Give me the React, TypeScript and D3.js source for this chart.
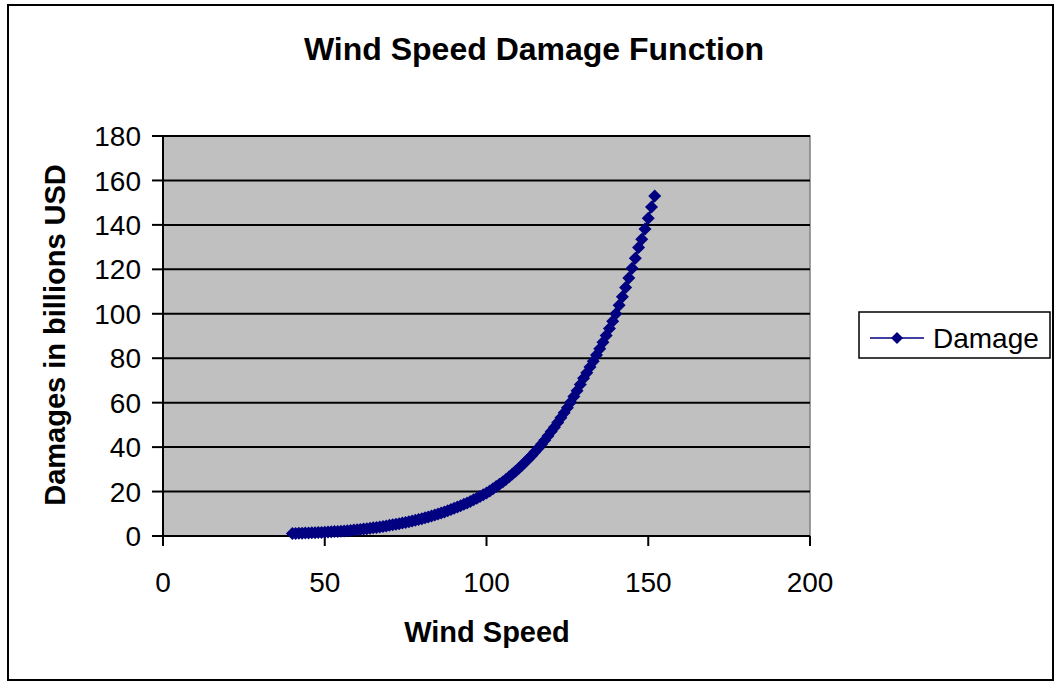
import React from "react";
import * as d3 from "d3";

const windSpeed: number[] = [
  40, 41, 42, 43, 44, 45, 46, 47, 48, 49,
  50, 51, 52, 53, 54, 55, 56, 57, 58, 59,
  60, 61, 62, 63, 64, 65, 66, 67, 68, 69,
  70, 71, 72, 73, 74, 75, 76, 77, 78, 79,
  80, 81, 82, 83, 84, 85, 86, 87, 88, 89,
  90, 91, 92, 93, 94, 95, 96, 97, 98, 99,
  100, 101, 102, 103, 104, 105, 106, 107, 108, 109,
  110, 111, 112, 113, 114, 115, 116, 117, 118, 119,
  120, 121, 122, 123, 124, 125, 126, 127, 128, 129,
  130, 131, 132, 133, 134, 135, 136, 137, 138, 139,
  140, 141, 142, 143, 144, 145, 146, 147, 148, 149,
  150, 151, 152,
];

const damage: number[] = [
  1.1, 1.15, 1.2, 1.25, 1.31, 1.37, 1.43, 1.49, 1.56, 1.63,
  1.7, 1.79, 1.88, 1.97, 2.07, 2.18, 2.29, 2.41, 2.53, 2.66,
  2.8, 2.96, 3.12, 3.29, 3.47, 3.66, 3.87, 4.08, 4.31, 4.55,
  4.8, 5.04, 5.29, 5.55, 5.83, 6.12, 6.42, 6.74, 7.08, 7.43,
  7.8, 8.18, 8.57, 8.99, 9.42, 9.88, 10.35, 10.85, 11.38, 11.93,
  12.5, 13.06, 13.65, 14.26, 14.9, 15.57, 16.27, 17.0, 17.76, 18.56,
  19.4, 20.3, 21.24, 22.22, 23.25, 24.33, 25.45, 26.63, 27.86, 29.15,
  30.5, 31.85, 33.26, 34.73, 36.26, 37.87, 39.54, 41.29, 43.11, 45.02,
  47.0, 48.98, 51.04, 53.19, 55.43, 57.76, 60.19, 62.73, 65.37, 68.12,
  71.0, 73.47, 76.03, 78.67, 81.41, 84.24, 87.17, 90.21, 93.34, 96.61,
  100.0, 103.8, 107.7, 111.8, 116.1, 120.5, 125.0, 129.8, 133.5, 138.2,
  143.0, 148.0, 153.0,
];

const xTicks: number[] = [0, 50, 100, 150, 200];
const yTicks: number[] = [0, 20, 40, 60, 80, 100, 120, 140, 160, 180];

const title = "Wind Speed Damage Function";
const xTitle = "Wind Speed";
const yTitle = "Damages in billions USD";
const seriesName = "Damage";

const W = 1057;
const H = 687;
const plot = { left: 163, right: 810, top: 136, bottom: 536 };
const navy = "#000080";
const font = "'Liberation Sans', Arial, Helvetica, sans-serif";

export default function App() {
  const x = d3.scaleLinear().domain([0, 200]).range([plot.left, plot.right]);
  const y = d3.scaleLinear().domain([0, 180]).range([plot.bottom, plot.top]);
  const pts = windSpeed.map((v, i) => [x(v), y(damage[i])] as [number, number]);
  const line = d3.line<[number, number]>()(pts) || "";
  const diamond = (cx: number, cy: number, r: number) =>
    `M${cx},${cy - r}L${cx + r},${cy}L${cx},${cy + r}L${cx - r},${cy}Z`;

  return (
    <svg
      width={W}
      height={H}
      style={{ position: "absolute", left: 0, top: 0, background: "#fff" }}
    >
      <rect x={0} y={0} width={W} height={H} fill="#fff" />
      <rect x={8} y={5} width={1045} height={675} fill="#fff" stroke="#000" strokeWidth={2} />

      <text x={534} y={60} textAnchor="middle" fontFamily={font} fontWeight="bold" fontSize={32}>
        {title}
      </text>

      <rect
        x={plot.left}
        y={plot.top}
        width={plot.right - plot.left}
        height={plot.bottom - plot.top}
        fill="#C0C0C0"
        stroke="#808080"
        strokeWidth={1.5}
      />
      {yTicks.map((t) => (
        <g key={"y" + t}>
          <line x1={plot.left} x2={plot.right} y1={y(t)} y2={y(t)} stroke="#000" strokeWidth={2} />
          <line x1={plot.left - 11} x2={plot.left} y1={y(t)} y2={y(t)} stroke="#000" strokeWidth={2} />
          <text
            x={141}
            y={y(t)}
            dy="0.36em"
            textAnchor="end"
            fontFamily={font}
            fontSize={28}
          >
            {t}
          </text>
        </g>
      ))}
      <line x1={plot.left} x2={plot.left} y1={plot.top} y2={plot.bottom} stroke="#000" strokeWidth={2} />
      {xTicks.map((t) => (
        <g key={"x" + t}>
          <line x1={x(t)} x2={x(t)} y1={plot.bottom} y2={plot.bottom + 10} stroke="#000" strokeWidth={2} />
          <text x={x(t)} y={592} textAnchor="middle" fontFamily={font} fontSize={28}>
            {t}
          </text>
        </g>
      ))}

      <path d={line} fill="none" stroke={navy} strokeWidth={2} />
      {pts.map(([px, py], i) => (
        <path key={i} d={diamond(px, py, 6.5)} fill={navy} />
      ))}

      <text x={487} y={642} textAnchor="middle" fontFamily={font} fontWeight="bold" fontSize={29}>
        {xTitle}
      </text>
      <text
        transform={`translate(65,335) rotate(-90)`}
        textAnchor="middle"
        fontFamily={font}
        fontWeight="bold"
        fontSize={29}
      >
        {yTitle}
      </text>

      <rect x={859} y={312} width={191} height={46} fill="#fff" stroke="#000" strokeWidth={1.5} />
      <line x1={870} x2={924} y1={338} y2={338} stroke={navy} strokeWidth={1.5} />
      <path d={diamond(897, 338, 6)} fill={navy} />
      <text x={933} y={348} fontFamily={font} fontSize={28}>
        {seriesName}
      </text>
    </svg>
  );
}
